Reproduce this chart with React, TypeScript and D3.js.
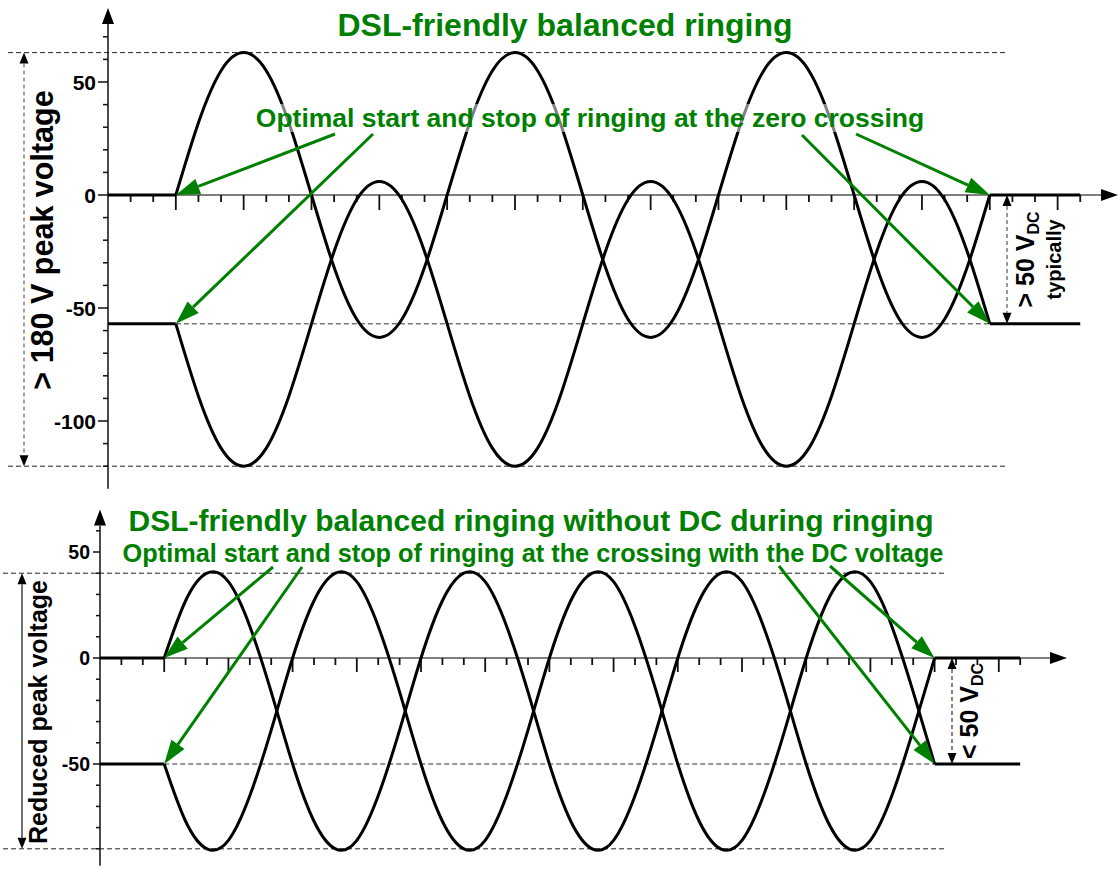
import { useEffect, useRef } from "react";
import * as d3 from "d3";

const GREEN = "#008000";
const FONT = "Arial, 'Liberation Sans', Helvetica, sans-serif";

// top panel: balanced ringing riding on the DC feed
const topYLabels = [50, 0, -50, -100];
const topRingA = [
  0, 32, 55, 63, 55, 32, 0, -32, -55, -63, -55, -32,
  0, 32, 55, 63, 55, 32, 0, -32, -55, -63, -55, -32,
  0, 32, 55, 63, 55, 32, 0, -32, -55, -63, -55, -32,
  0,
];
const topRingB = [
  -57, -89, -112, -120, -112, -89, -57, -25, -2, 6, -2, -25,
  -57, -89, -112, -120, -112, -89, -57, -25, -2, 6, -2, -25,
  -57, -89, -112, -120, -112, -89, -57, -25, -2, 6, -2, -25,
  -57,
];
const topRest = [0, -57];
const topGuides = [63, -120];

// bottom panel: no DC while ringing
const botYLabels = [50, 0, -50];
const botRingA = [
  0, 27, 40, 36, 15, -16, -50, -77, -90, -86, -65, -34,
  0, 27, 40, 36, 15, -16, -50, -77, -90, -86, -65, -34,
  0, 27, 40, 36, 15, -16, -50, -77, -90, -86, -65, -34,
  0,
];
const botRingB = [
  -50, -77, -90, -86, -65, -34, 0, 27, 40, 36, 15, -16,
  -50, -77, -90, -86, -65, -34, 0, 27, 40, 36, 15, -16,
  -50, -77, -90, -86, -65, -34, 0, 27, 40, 36, 15, -16,
  -50,
];
const botRest = [0, -50];
const botGuides = [40, -90];

const ringStart = 3; // x in tick units
const lastTick = 43;

function head(tx: number, ty: number, fx: number, fy: number, len: number, half: number) {
  const dx = tx - fx;
  const dy = ty - fy;
  const n = Math.hypot(dx, dy);
  const ux = dx / n;
  const uy = dy / n;
  const bx = tx - ux * len;
  const by = ty - uy * len;
  return {
    pts: `${tx},${ty} ${bx - uy * half},${by + ux * half} ${bx + uy * half},${by - ux * half}`,
    bx,
    by,
  };
}

type PanelProps = {
  x0: number;
  tickW: number;
  zeroY: number;
  unitPx: number;
  yTop: number;
  yBottom: number;
  minor: number[];
  labels: number[];
  labelSize: number;
  labelRight: number;
  majorLen: number;
  minorLen: number;
  xEnd: number;
  tickShort: number;
  tickLong: number;
  ringA: number[];
  ringB: number[];
  rest: number[];
  guides: number[];
  guideL: number;
  guideR: number;
};

function Panel(p: PanelProps) {
  const x = d3.scaleLinear().domain([0, lastTick]).range([p.x0, p.x0 + lastTick * p.tickW]);
  const y = d3.scaleLinear().domain([0, 50]).range([p.zeroY, p.zeroY - 50 * p.unitPx]);
  const ringEnd = ringStart + p.ringA.length - 1;
  const straight = d3.line<[number, number]>().x((d) => x(d[0])).y((d) => y(d[1]));
  const smooth = d3
    .line<[number, number]>()
    .x((d) => x(d[0]))
    .y((d) => y(d[1]))
    .curve(d3.curveNatural);

  const ringPts = (vals: number[]) => vals.map((v, i) => [ringStart + i, v] as [number, number]);
  const yHead = head(p.x0, y(p.yTop), p.x0, y(p.yTop) + 10, 16, 6);
  const xHead = head(p.xEnd, p.zeroY, p.xEnd - 10, p.zeroY, 17, 6);

  return (
    <g>
      {/* guides */}
      {p.guides.map((g) => (
        <line key={g} x1={p.guideL} x2={p.guideR} y1={y(g)} y2={y(g)} stroke="#222" strokeWidth={1} strokeDasharray="5,3" />
      ))}
      <line x1={x(ringStart)} x2={x(ringEnd)} y1={y(p.rest[1])} y2={y(p.rest[1])} stroke="#333" strokeWidth={1} strokeDasharray="5,3" />

      {/* y axis */}
      <line x1={p.x0} x2={p.x0} y1={yHead.by} y2={y(p.yBottom)} stroke="#111" strokeWidth={1.5} />
      <polygon points={yHead.pts} fill="#000" />
      {p.minor.map((t) => (
        <line key={t} x1={p.x0 - (p.labels.includes(t) ? p.majorLen : p.minorLen)} x2={p.x0} y1={y(t)} y2={y(t)} stroke="#111" strokeWidth={1.5} />
      ))}
      {p.labels.map((t) => (
        <text key={t} x={p.labelRight} y={y(t)} dy="0.36em" textAnchor="end" fontSize={p.labelSize} fontWeight="bold" fontFamily={FONT}>
          {t}
        </text>
      ))}

      {/* x axis */}
      <line x1={p.x0} x2={xHead.bx} y1={p.zeroY} y2={p.zeroY} stroke="#555" strokeWidth={1.5} />
      <polygon points={xHead.pts} fill="#000" />
      {d3.range(1, lastTick + 1).map((k) => (
        <line key={k} x1={x(k)} x2={x(k)} y1={p.zeroY} y2={p.zeroY + (k % 3 === 0 ? p.tickLong : p.tickShort)} stroke="#111" strokeWidth={1.8} />
      ))}

      {/* waveforms */}
      {p.rest.map((r, i) => (
        <g key={i} fill="none" stroke="#000" strokeWidth={3} strokeLinecap="butt">
          <path d={straight([[0, r], [ringStart, r]]) ?? ""} />
          <path d={straight([[ringEnd, r], [lastTick, r]]) ?? ""} />
        </g>
      ))}
      <path d={smooth(ringPts(p.ringA)) ?? ""} fill="none" stroke="#000" strokeWidth={3} />
      <path d={smooth(ringPts(p.ringB)) ?? ""} fill="none" stroke="#000" strokeWidth={3} />
    </g>
  );
}

function GreenArrows({ arrows, x, y }: { arrows: { from: [number, number]; at: [number, number] }[]; x: (v: number) => number; y: (v: number) => number }) {
  return (
    <g>
      {arrows.map((a, i) => {
        const tx = x(a.at[0]);
        const ty = y(a.at[1]);
        const h = head(tx, ty, a.from[0], a.from[1], 24, 8);
        return (
          <g key={i}>
            <line x1={a.from[0]} y1={a.from[1]} x2={h.bx} y2={h.by} stroke={GREEN} strokeWidth={3} />
            <polygon points={h.pts} fill={GREEN} />
          </g>
        );
      })}
    </g>
  );
}

function Measure({ xPos, y1, y2, dashed, color }: { xPos: number; y1: number; y2: number; dashed: boolean; color: string }) {
  const a = head(xPos, y1, xPos, y1 + 10, 11, 4.5);
  const b = head(xPos, y2, xPos, y2 - 10, 11, 4.5);
  return (
    <g>
      <line x1={xPos} x2={xPos} y1={a.by} y2={b.by} stroke={color} strokeWidth={1.2} strokeDasharray={dashed ? "4,3" : undefined} />
      <polygon points={a.pts} fill="#000" />
      <polygon points={b.pts} fill="#000" />
    </g>
  );
}

export default function App() {
  const ref = useRef<SVGSVGElement>(null);

  const top = {
    x0: 108, tickW: 22.61, zeroY: 195, unitPx: 2.26, yTop: 82.7, yBottom: -130,
    minor: d3.range(-120, 71, 10), labels: topYLabels, labelSize: 21, labelRight: 96,
    majorLen: 10, minorLen: 5, xEnd: 1118, tickShort: 7, tickLong: 15,
    ringA: topRingA, ringB: topRingB, rest: topRest, guides: topGuides, guideL: 8, guideR: 1005,
  };
  const bot = {
    x0: 100, tickW: 21.4, zeroY: 658, unitPx: 2.12, yTop: 70, yBottom: -98,
    minor: d3.range(-90, 61, 10), labels: botYLabels, labelSize: 19.5, labelRight: 90,
    majorLen: 7, minorLen: 4, xEnd: 1067, tickShort: 7, tickLong: 14,
    ringA: botRingA, ringB: botRingB, rest: botRest, guides: botGuides, guideL: 3, guideR: 945,
  };
  const tx = d3.scaleLinear().domain([0, lastTick]).range([top.x0, top.x0 + lastTick * top.tickW]);
  const ty = d3.scaleLinear().domain([0, 50]).range([top.zeroY, top.zeroY - 50 * top.unitPx]);
  const bx = d3.scaleLinear().domain([0, lastTick]).range([bot.x0, bot.x0 + lastTick * bot.tickW]);
  const by = d3.scaleLinear().domain([0, 50]).range([bot.zeroY, bot.zeroY - 50 * bot.unitPx]);
  const ringEnd = ringStart + topRingA.length - 1;

  useEffect(() => {
    if (!ref.current) return;
    const svg = d3.select(ref.current);
    svg.selectAll("rect.halo").remove();
    svg.selectAll<SVGTextElement, unknown>("text.boxed").each(function () {
      const b = this.getBBox();
      d3.select(this.parentNode as SVGGElement)
        .insert("rect", () => this)
        .attr("class", "halo")
        .attr("x", b.x - 2)
        .attr("y", b.y + 1)
        .attr("width", b.width + 4)
        .attr("height", b.height - 2)
        .attr("fill", "#fff")
        .attr("opacity", 0.5);
    });
  }, []);

  return (
    <svg ref={ref} width={1118} height={869} style={{ position: "absolute", left: 0, top: 0, background: "#fff" }}>
      <Panel {...top} />
      <Panel {...bot} />

      {/* left measurements */}
      <Measure xPos={24} y1={ty(topGuides[0])} y2={ty(topGuides[1])} dashed color="#666" />
      <text transform={`translate(53,240) rotate(-90)`} textAnchor="middle" fontSize={30.5} fontWeight="bold" fontFamily={FONT}>
        {"> 180 V peak voltage"}
      </text>
      <Measure xPos={22} y1={by(botGuides[0])} y2={by(botGuides[1])} dashed={false} color="#111" />
      <text transform={`translate(47,712) rotate(-90)`} textAnchor="middle" fontSize={25} fontWeight="bold" fontFamily={FONT}>
        Reduced peak voltage
      </text>

      {/* right measurements */}
      <Measure xPos={1007} y1={ty(topRest[0])} y2={ty(topRest[1])} dashed color="#555" />
      <text transform={`translate(1034,${(ty(topRest[0]) + ty(topRest[1])) / 2}) rotate(-90)`} textAnchor="middle" fontSize={25} fontWeight="bold" fontFamily={FONT}>
        {"> 50 V"}
        <tspan fontSize={16} dy={5}>DC</tspan>
      </text>
      <text transform={`translate(1061,${(ty(topRest[0]) + ty(topRest[1])) / 2}) rotate(-90)`} textAnchor="middle" fontSize={20} fontWeight="bold" fontFamily={FONT}>
        typically
      </text>
      <Measure xPos={952} y1={by(botRest[0])} y2={by(botRest[1])} dashed color="#333" />
      <text transform={`translate(978,${(by(botRest[0]) + by(botRest[1])) / 2}) rotate(-90)`} textAnchor="middle" fontSize={25} fontWeight="bold" fontFamily={FONT}>
        {"< 50 V"}
        <tspan fontSize={16} dy={5}>DC</tspan>
      </text>

      {/* titles */}
      <g fill={GREEN} fontFamily={FONT} fontWeight="bold" textAnchor="middle">
        <text x={565} y={36} fontSize={32}>DSL-friendly balanced ringing</text>
        <text className="boxed" x={590} y={127} fontSize={26.5}>Optimal start and stop of ringing at the zero crossing</text>
        <text className="boxed" x={531} y={531} fontSize={30}>DSL-friendly balanced ringing without DC during ringing</text>
        <text className="boxed" x={533} y={562} fontSize={25.3}>Optimal start and stop of ringing at the crossing with the DC voltage</text>
      </g>

      <GreenArrows
        x={tx}
        y={ty}
        arrows={[
          { from: [335, 134], at: [ringStart, topRest[0]] },
          { from: [373, 134], at: [ringStart, topRest[1]] },
          { from: [802, 135], at: [ringEnd, topRest[1]] },
          { from: [856, 134], at: [ringEnd, topRest[0]] },
        ]}
      />
      <GreenArrows
        x={bx}
        y={by}
        arrows={[
          { from: [273, 567], at: [ringStart, botRest[0]] },
          { from: [302, 567], at: [ringStart, botRest[1]] },
          { from: [779, 566], at: [ringEnd, botRest[1]] },
          { from: [830, 566], at: [ringEnd, botRest[0]] },
        ]}
      />
    </svg>
  );
}
